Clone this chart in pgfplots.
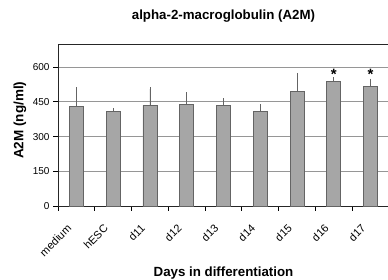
\documentclass[border=0pt]{standalone}
\usepackage{fontspec}
\setmainfont{Liberation Sans}
\usepackage{pgfplots}
\pgfplotsset{compat=1.18}
\definecolor{barfill}{RGB}{166,166,166}
\definecolor{barline}{RGB}{100,100,100}
\definecolor{gridc}{RGB}{150,150,150}
\begin{document}
\begin{tikzpicture}
\begin{axis}[
  scale only axis, width=331pt, height=162pt,
  xmin=-0.5, xmax=8.5, ymin=0, ymax=700,
  ybar, bar width=14pt,
  ytick={0,150,...,600},
  minor ytick={0,150,...,600},
  xtick={0,...,8},
  minor xtick={-0.5,0.5,...,8.5},
  xticklabels={medium,hESC,d11,d12,d13,d14,d15,d16,d17},
  xtick pos=bottom, ytick pos=left,
  x tick label style={xshift=-10pt, yshift=-16pt, rotate=45, anchor=north east, inner sep=1pt, font=\fontsize{11}{12}\selectfont},
  y tick label style={xshift=-5pt, font=\fontsize{10}{11}\selectfont},
  /pgf/number format/assume math mode=true,
  tick align=outside, major tick length=0pt, minor tick length=4.5pt,
  tick style={black, line width=0.8pt},
  axis line style={black!85, line width=0.8pt},
  ymajorgrids, grid style={gridc, line width=0.9pt},
  title={alpha-2-macroglobulin (A2M)},
  title style={at={(axis description cs:0.5,1)}, anchor=base, yshift=19pt, font=\bfseries\fontsize{13.3}{14}\selectfont},
  xlabel={Days in differentiation},
  xlabel style={at={(axis description cs:0.5,0)}, anchor=base, yshift=-70pt, font=\bfseries\fontsize{13.3}{14}\selectfont},
  ylabel={A2M (ng/ml)},
  ylabel style={at={(axis description cs:-0.115,0.53)}, anchor=center, font=\bfseries\fontsize{13.5}{14}\selectfont},
]
\addplot[fill=barfill, draw=barline, line width=0.7pt,
  error bars/.cd, y dir=plus, y explicit,
  error bar style={barline, line width=0.7pt},
  error mark options={barline, mark size=2pt, line width=0.7pt}]
  table[x=x, y=y, y error=e] {
x y e
0 432 73
1 410 5
2 435 70
3 440 42
4 435 22
5 410 22
6 496 71
7 538 10
8 517 25
};
\node[font=\bfseries\fontsize{15}{15}\selectfont, anchor=center] at (axis cs:7,570) {*};
\node[font=\bfseries\fontsize{15}{15}\selectfont, anchor=center] at (axis cs:8,570) {*};
\end{axis}
\pgfresetboundingbox
\path[use as bounding box] (-58pt,-73pt) rectangle (330pt,206pt);
\end{tikzpicture}
\end{document}
